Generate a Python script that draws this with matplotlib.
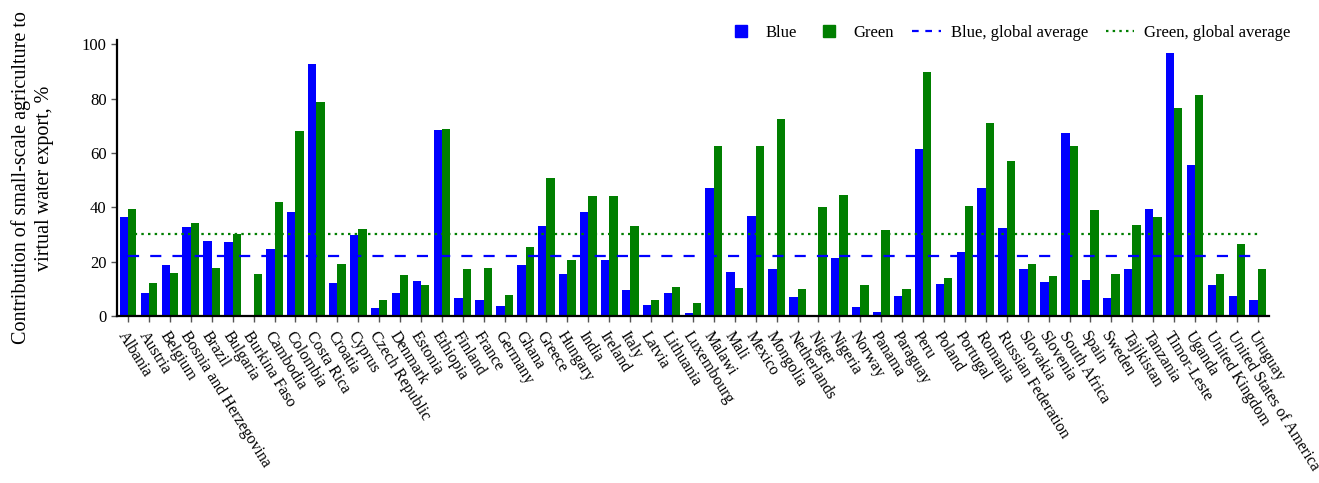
import numpy as np
import matplotlib
matplotlib.use('Agg')
import matplotlib.pyplot as plt
from matplotlib.lines import Line2D

plt.rcParams['font.family'] = ['Liberation Serif', 'DejaVu Serif']

# Countries and shares (%) of small-scale agriculture in virtual water export
countries = [
    'Albania', 'Austria', 'Belgium', 'Bosnia and Herzegovina', 'Brazil',
    'Bulgaria', 'Burkina Faso', 'Cambodia', 'Colombia', 'Costa Rica',
    'Croatia', 'Cyprus', 'Czech Republic', 'Denmark', 'Estonia', 'Ethiopia',
    'Finland', 'France', 'Germany', 'Ghana', 'Greece', 'Hungary', 'India',
    'Ireland', 'Italy', 'Latvia', 'Lithuania', 'Luxembourg', 'Malawi', 'Mali',
    'Mexico', 'Mongolia', 'Netherlands', 'Niger', 'Nigeria', 'Norway',
    'Panama', 'Paraguay', 'Peru', 'Poland', 'Portugal', 'Romania',
    'Russian Federation', 'Slovakia', 'Slovenia', 'South Africa', 'Spain',
    'Sweden', 'Tajikistan', 'Tanzania', 'Timor-Leste', 'Uganda',
    'United Kingdom', 'United States of America', 'Uruguay',
]

blue = [
    36.4, 8.6, 18.7, 32.8, 27.7, 27.1, 0.0, 24.8, 38.4, 92.7,
    12.2, 29.8, 3.0, 8.6, 13.0, 68.3, 6.5, 6.0, 3.7, 18.9,
    33.2, 15.5, 38.4, 20.5, 9.7, 4.1, 8.5, 1.0, 47.0, 16.2,
    36.8, 17.3, 7.0, 0.4, 21.5, 3.2, 1.6, 7.5, 61.5, 11.7,
    23.4, 47.2, 32.5, 17.2, 12.4, 67.2, 13.2, 6.5, 17.1, 39.5,
    96.7, 55.5, 11.4, 7.3, 5.8,
]

green = [
    39.4, 12.3, 15.7, 34.2, 17.5, 30.1, 15.5, 42.1, 68.0, 78.6,
    19.2, 32.1, 5.9, 14.9, 11.3, 68.8, 17.1, 17.6, 7.6, 25.3,
    50.7, 20.5, 44.3, 44.0, 33.1, 5.8, 10.8, 4.9, 62.7, 10.2,
    62.7, 72.6, 10.0, 40.0, 44.6, 11.3, 31.7, 10.0, 89.8, 14.0,
    40.3, 71.1, 57.2, 19.3, 14.6, 62.5, 38.9, 15.6, 33.3, 36.3,
    76.6, 81.2, 15.4, 26.4, 17.1,
]

blue_avg = 22.0
green_avg = 30.1

x = np.arange(len(countries))
w = 0.4

fig = plt.figure(figsize=(13.19, 4.83), dpi=100)
ax = fig.add_axes([0.0887, 0.3458, 0.8733, 0.5712])

ax.bar(x - w / 2, blue, w, color='#0000ff', linewidth=0)
ax.bar(x + w / 2, green, w, color='#007f00', linewidth=0)

# global averages run from the first to the last country
ax.plot([x[0], x[-1]], [blue_avg, blue_avg], color='#0000ff', lw=1.6,
        dashes=(5, 5))
ax.plot([x[0], x[-1]], [green_avg, green_avg], color='#007f00', lw=1.6,
        dashes=(1.1, 1.9))

ax.set_xlim(-0.53, len(countries) - 1 + 0.53)
ax.set_ylim(0, 101.5)
ax.set_yticks([0, 20, 40, 60, 80, 100])
ax.set_xticks(x)
ax.set_xticklabels(countries, rotation=-58, ha='left', va='top',
                   rotation_mode='anchor', fontsize=11.5)
ax.tick_params(axis='y', labelsize=12, length=4, width=1, color='#555555')
ax.tick_params(axis='x', length=4, width=1, color='#555555', pad=5)

for side in ['top', 'right']:
    ax.spines[side].set_visible(False)
for side in ['left', 'bottom']:
    ax.spines[side].set_linewidth(1.6)

ax.set_ylabel('Contribution of small-scale agriculture to\nvirtual water export, %',
              fontsize=14.5, linespacing=1.25)
ax.yaxis.set_label_coords(-0.055, 0.5)

handles = [
    Line2D([], [], marker='s', linestyle='none', color='#0000ff', markersize=8),
    Line2D([], [], marker='s', linestyle='none', color='#007f00', markersize=8),
    Line2D([], [], color='#0000ff', lw=1.6, dashes=(3, 3)),
    Line2D([], [], color='#007f00', lw=1.6, dashes=(1.1, 1.9)),
]
labels = ['Blue', 'Green', 'Blue, global average', 'Green, global average']
fig.legend(handles, labels, loc='center right', bbox_to_anchor=(0.99, 0.932),
           ncol=4, frameon=False, fontsize=12, handlelength=1.7,
           handletextpad=0.6, columnspacing=1.1)

fig.savefig('out.png', dpi=100)
